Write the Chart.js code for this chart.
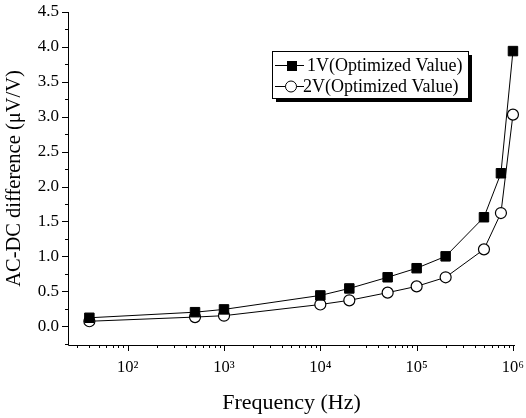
<!DOCTYPE html>
<html>
<head>
<meta charset="utf-8">
<script src="https://cdn.jsdelivr.net/npm/chart.js@4"></script>
<style>
  body { margin: 0; background: #fff; }
  #wrap { width: 526px; height: 418px; position: relative; }
</style>
</head>
<body>
<div id="wrap"><canvas id="chart"></canvas></div>
<script>
// frequencies (Hz) and AC-DC difference values (uV/V)
const frequencies = [40, 500, 1000, 1e4, 2e4, 5e4, 1e5, 2e5, 5e5, 7.5e5, 1e6];
const values1V = [0.12, 0.20, 0.24, 0.44, 0.54, 0.70, 0.83, 1.00, 1.56, 2.19, 3.94];
const values2V = [0.07, 0.13, 0.15, 0.31, 0.37, 0.48, 0.57, 0.70, 1.10, 1.62, 3.03];
const seriesNames = ['1V(Optimized Value)', '2V(Optimized Value)'];

const xMajorTicks = [1e2, 1e3, 1e4, 1e5, 1e6];
const xTickLabels = ['10\u00B2', '10\u00B3', '10\u2074', '10\u2075', '10\u2076'];
const yMajorTicks = [0, 0.5, 1, 1.5, 2, 2.5, 3, 3.5, 4, 4.5];
const yTickLabels = ['0.0', '0.5', '1.0', '1.5', '2.0', '2.5', '3.0', '3.5', '4.0', '4.5'];

const SERIF = '"Liberation Serif", "DejaVu Serif", serif';

const toPoints = (vals) => frequencies.map((f, i) => ({ x: f, y: vals[i] }));

// axis lines, tick marks and the boxed legend
const framePlugin = {
    id: 'frame',
    afterDraw(chart) {
        const { ctx, chartArea: a, scales: { x, y } } = chart;
        ctx.save();
        ctx.strokeStyle = '#000';
        ctx.lineWidth = 1;
        ctx.beginPath();
        ctx.moveTo(a.left + 0.5, a.top);
        ctx.lineTo(a.left + 0.5, a.bottom + 0.5);
        ctx.lineTo(a.right, a.bottom + 0.5);

        // x ticks: major at decades, minor at 2..9
        for (let d = 1; d <= 6; d++) {
            for (let m = 1; m <= 9; m++) {
                const v = m * Math.pow(10, d);
                if (v < x.min || v > x.max) continue;
                const px = Math.round(x.getPixelForValue(v)) + 0.5;
                const len = m === 1 ? 6 : 3;
                ctx.moveTo(px, a.bottom);
                ctx.lineTo(px, a.bottom + len);
            }
        }
        // y ticks: major every 0.5, minor every 0.25
        for (let v = -0.25; v <= 4.5001; v += 0.25) {
            if (v < y.min) continue;
            const py = Math.round(y.getPixelForValue(v)) + 0.5;
            const major = Math.abs(v * 2 - Math.round(v * 2)) < 1e-6;
            ctx.moveTo(a.left, py);
            ctx.lineTo(a.left - (major ? 6 : 3), py);
        }
        ctx.stroke();

        // legend
        const lx = 272, ly = 51, lw = 196, lh = 47;
        ctx.fillStyle = '#000';
        ctx.fillRect(lx + 4, ly + 4, lw, lh);
        ctx.fillStyle = '#fff';
        ctx.fillRect(lx, ly, lw, lh);
        ctx.strokeRect(lx + 0.5, ly + 0.5, lw, lh);

        const rows = [
            { y: ly + 14, square: true, textX: 307 },
            { y: ly + 35, square: false, textX: 303 }
        ];
        rows.forEach((r, i) => {
            ctx.beginPath();
            ctx.moveTo(lx + 3, r.y + 0.5);
            ctx.lineTo(lx + 32, r.y + 0.5);
            ctx.stroke();
            if (r.square) {
                ctx.fillStyle = '#000';
                ctx.fillRect(lx + 15, r.y - 4, 10, 10);
            } else {
                ctx.beginPath();
                ctx.arc(lx + 19, r.y + 0.5, 5.5, 0, Math.PI * 2);
                ctx.fillStyle = '#fff';
                ctx.fill();
                ctx.stroke();
            }
            ctx.fillStyle = '#000';
            ctx.font = '18px ' + SERIF;
            ctx.textBaseline = 'middle';
            ctx.fillText(seriesNames[i], r.textX, r.y + 1);
        });
        ctx.restore();
    }
};

new Chart(document.getElementById('chart'), {
    type: 'line',
    data: {
        datasets: [
            {
                label: seriesNames[0],
                data: toPoints(values1V),
                borderColor: '#000',
                borderWidth: 1,
                pointStyle: 'rect',
                pointRadius: 6.7,
                pointBackgroundColor: '#000',
                pointBorderColor: '#000',
                pointBorderWidth: 1
            },
            {
                label: seriesNames[1],
                data: toPoints(values2V),
                borderColor: '#000',
                borderWidth: 1,
                pointStyle: 'circle',
                pointRadius: 5.5,
                pointBackgroundColor: '#fff',
                pointBorderColor: '#000',
                pointBorderWidth: 1.2
            }
        ]
    },
    options: {
        responsive: true,
        maintainAspectRatio: false,
        animation: false,
        layout: { padding: { top: 12, right: 11, left: 0, bottom: 0 } },
        clip: false,
        plugins: {
            legend: { display: false },
            tooltip: { enabled: false }
        },
        scales: {
            x: {
                type: 'logarithmic',
                min: 24,
                max: 1.05e6,
                grid: { display: false, drawTicks: false },
                border: { display: false },
                afterBuildTicks: (s) => { s.ticks = xMajorTicks.map(v => ({ value: v })); },
                afterFit: (s) => {
                    s.height = 73;
                    s.paddingLeft = 0;
                    s.paddingRight = 0;
                },
                ticks: {
                    padding: 13,
                    autoSkip: false,
                    maxRotation: 0,
                    color: '#000',
                    font: { family: SERIF, size: 16.5 },
                    callback: (v) => xTickLabels[xMajorTicks.indexOf(v)]
                },
                title: {
                    display: true,
                    text: 'Frequency (Hz)',
                    color: '#000',
                    font: { family: SERIF, size: 22 },
                    padding: { top: 4, bottom: 2 }
                }
            },
            y: {
                min: -0.27,
                max: 4.5,
                grid: { display: false, drawTicks: false },
                border: { display: false },
                afterBuildTicks: (s) => { s.ticks = yMajorTicks.map(v => ({ value: v })); },
                afterFit: (s) => {
                    s.width = 68;
                    s.paddingTop = 0;
                    s.paddingBottom = 0;
                },
                ticks: {
                    padding: 9,
                    color: '#000',
                    font: { family: SERIF, size: 17 },
                    callback: (v) => yTickLabels[yMajorTicks.indexOf(v)]
                },
                title: {
                    display: true,
                    text: 'AC-DC difference (\u03BCV/V)',
                    color: '#000',
                    font: { family: SERIF, size: 20.5 },
                    padding: { top: 2, bottom: 0 }
                }
            }
        }
    },
    plugins: [framePlugin]
});
</script>
</body>
</html>
